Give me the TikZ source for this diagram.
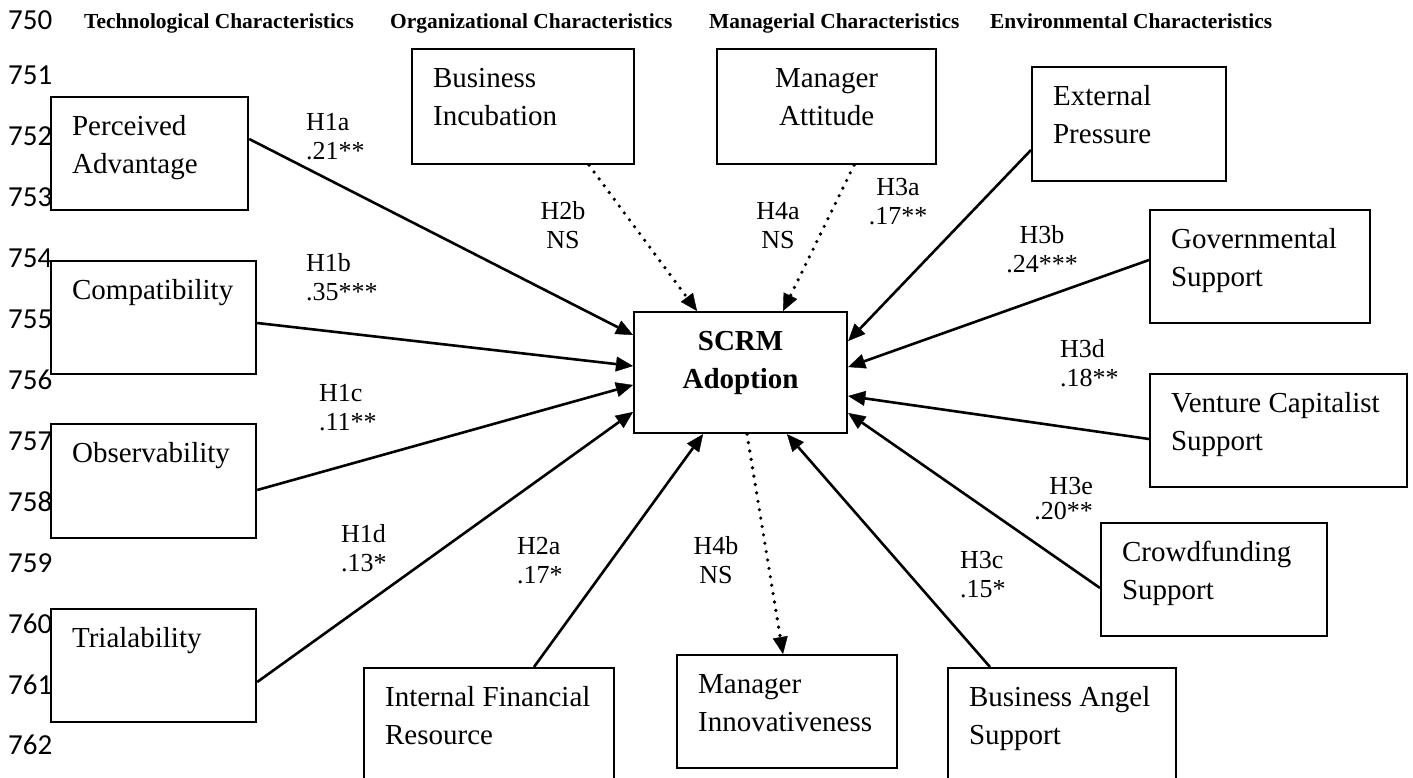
\documentclass[tikz,border=0pt]{standalone}
\usepackage{fontspec}
\setmainfont{Liberation Serif}
\newfontfamily\numfont{Carlito}
\usetikzlibrary{arrows.meta,calc}

\tikzset{
  cbox/.style 2 args={draw, line width=2.2pt, anchor=north west, inner xsep=21pt, inner ysep=0pt,
    text width=#1-42, text height=38pt, text depth=#2-38, align=flush left,
    font=\fontsize{29}{38.5}\selectfont},
  ccbox/.style 2 args={cbox={#1}{#2}, align=flush center},
  hyp/.style={font=\fontsize{26}{29}\selectfont, inner sep=0pt, text width=80pt},
  rel/.style={line width=2.6pt, -{Triangle[length=17pt,width=15pt,line width=0.4pt]}},
  nsrel/.style={rel, line cap=round, dash pattern=on 0pt off 8.5pt, line width=3.6pt},
  hdr/.style={font=\fontsize{21.4}{25}\selectfont\bfseries, anchor=base west, inner sep=0pt},
  lnum/.style={font=\numfont\fontsize{29}{30}\selectfont, anchor=base west, inner sep=0pt}
}

\begin{document}
\begin{tikzpicture}[x=1pt,y=-1pt]
  \useasboundingbox (0,0) rectangle (1413,778);
  \clip (0,0) rectangle (1413,778);
  % line numbers
  \node[lnum] (ln0) at (8,30) {750};
  \foreach \i in {1,...,12}{
    \pgfmathtruncatemacro\lab{750+\i}
    \node[lnum] (ln\i) at (8,{85+60.9*(\i-1)}) {\lab};
  }
  % group headers
  \node[hdr] (htech) at (84,29) {Technological Characteristics};
  \node[hdr] (horg) at (390,29) {Organizational Characteristics};
  \node[hdr] (hman) at (709,29) {Managerial Characteristics};
  \node[hdr] (henv) at (990,29) {Environmental Characteristics};
  % constructs
  \node[cbox={197}{113}] (pa) at (50,96) {Perceived\\Advantage};
  \node[cbox={205}{113}] (cp) at (50,260) {Compatibility};
  \node[cbox={205}{114}] (ob) at (50,423) {Observability};
  \node[cbox={205}{113}] (tr) at (50,608) {Trialability};
  \node[cbox={222}{115}] (bi) at (411,48) {Business\\Incubation};
  \node[ccbox={219}{115}] (ma) at (716,48) {Manager\\Attitude};
  \node[cbox={194}{114}] (ep) at (1031,66) {External\\Pressure};
  \node[cbox={220}{113}] (gs) at (1149,209) {Governmental\\Support};
  \node[cbox={257}{113}] (vc) at (1149,373) {Venture Capitalist\\Support};
  \node[cbox={226}{113}] (cs) at (1100,522) {Crowdfunding\\Support};
  \node[cbox={228}{130}] (ba) at (947,667) {Business Angel\\Support};
  \node[cbox={250}{130}] (ifr) at (363,667) {Internal Financial\\Resource};
  \node[cbox={220}{113}] (mi) at (676,654) {Manager\\Innovativeness};
  \node[ccbox={213}{121}, font=\fontsize{29}{38.5}\selectfont\bfseries] (ad) at (633,311) {SCRM\\Adoption};
  % paths
  \draw[rel] ([yshift=-43pt]pa.north east) -- ([yshift=-24pt]ad.north west);
  \draw[rel] ([yshift=-63pt]cp.north east) -- ([yshift=-55pt]ad.north west);
  \draw[rel] ([yshift=-67pt]ob.north east) -- ([yshift=-74pt]ad.north west);
  \draw[rel] ([yshift=-74pt]tr.north east) -- ([yshift=-101pt]ad.north west);
  \draw[rel] ([xshift=171pt]ifr.north west) -- ([xshift=70pt]ad.south west);
  \draw[nsrel] ([xshift=114pt]ad.south west) -- ([xshift=107pt]mi.north west);
  \draw[rel] ([xshift=43pt]ba.north west) -- ([xshift=154pt]ad.south west);
  \draw[rel] ([yshift=-66pt]cs.north west) -- ([yshift=-102pt]ad.north east);
  \draw[rel] ([yshift=-66pt]vc.north west) -- ([yshift=-85pt]ad.north east);
  \draw[rel] ([yshift=-51pt]gs.north west) -- ([yshift=-56pt]ad.north east);
  \draw[rel] ([yshift=-84pt]ep.north west) -- ([yshift=-30pt]ad.north east);
  \draw[nsrel] ([xshift=178pt]bi.south west) -- ([xshift=64pt]ad.north west);
  \draw[nsrel] ([xshift=138pt]ma.south west) -- ([xshift=150pt]ad.north west);
  % path coefficients
  \node[hyp, anchor=base west, align=left] (h1a) at (306,131) {H1a\\.21**};
  \node[hyp, anchor=base west, align=left] (h1b) at (306,271) {H1b\\.35***};
  \node[hyp, anchor=base west, align=left] (h1c) at (319,401) {H1c\\.11**};
  \node[hyp, anchor=base west, align=left] (h1d) at (341,542) {H1d\\.13*};
  \node[hyp, anchor=base west, align=left] (h2a) at (517,554) {H2a\\.17*};
  \node[hyp, anchor=base, align=center] (h2b) at (563,219) {H2b\\NS};
  \node[hyp, anchor=base, align=center] (h4a) at (778,219) {H4a\\NS};
  \node[hyp, anchor=base, align=center] (h4b) at (716,554) {H4b\\NS};
  \node[hyp, anchor=base, align=center] (h3a) at (898,196) {H3a\\.17**};
  \node[hyp, anchor=base, align=center] (h3b) at (1042,243) {H3b\\.24***};
  \node[hyp, anchor=base west, align=left] (h3d) at (1060,357) {H3d\\.18**};
  \node[hyp, anchor=base east, align=right] (h3e) at (1093,494) {H3e\\[-4pt].20**};
  \node[hyp, anchor=base west, align=left] (h3c) at (960,568) {H3c\\.15*};
\end{tikzpicture}
\end{document}
